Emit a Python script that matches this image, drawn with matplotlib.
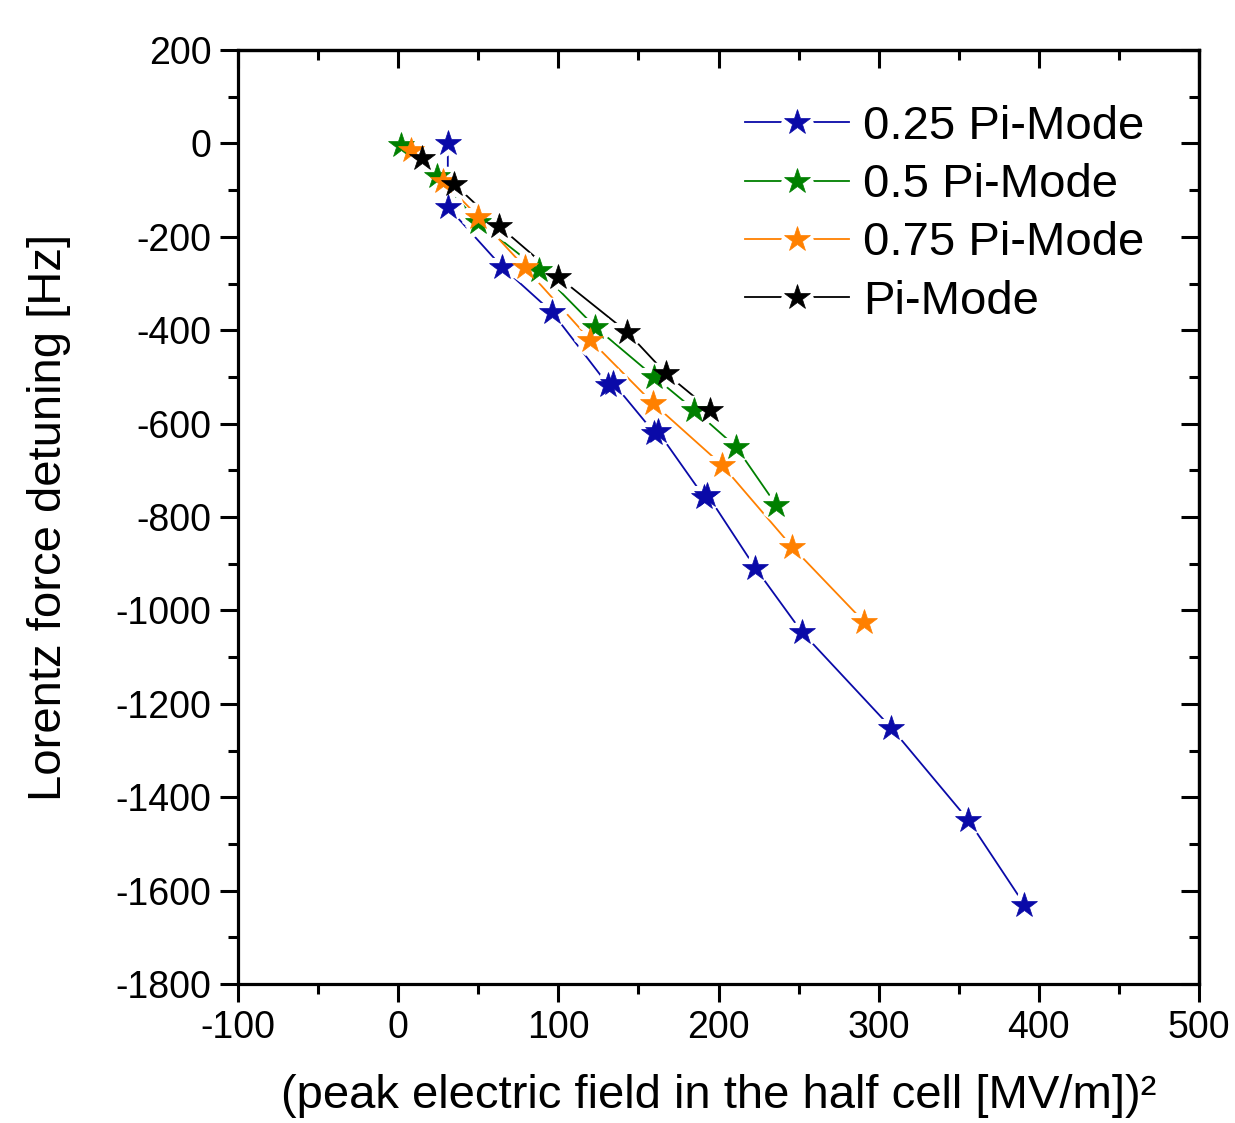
import matplotlib
matplotlib.use("Agg")
import matplotlib.pyplot as plt
from matplotlib.legend_handler import HandlerTuple
from matplotlib.ticker import MultipleLocator

plt.rcParams['font.family'] = ['Liberation Sans', 'DejaVu Sans']
plt.rcParams['axes.unicode_minus'] = False

# ---------------- data ----------------
labels = ["0.25 Pi-Mode", "0.5 Pi-Mode", "0.75 Pi-Mode", "Pi-Mode"]
colors = ["#0A0AA8", "#008000", "#FF8000", "#000000"]

x_025 = [31, 31, 65, 96, 131, 134, 160, 162, 191, 193, 223, 252, 308, 356, 391]
y_025 = [0, -136, -265, -361, -517, -512, -620, -616, -757, -752, -909, -1046, -1252, -1449, -1630]

x_05 = [2, 24, 50, 88, 123, 160, 185, 211, 236]
y_05 = [-4, -70, -168, -271, -393, -500, -571, -650, -774]

x_075 = [8, 28, 50, 79, 120, 159, 202, 246, 291]
y_075 = [-14, -80, -157, -265, -421, -556, -688, -864, -1025]

x_pi = [15, 35, 63, 100, 143, 167, 195]
y_pi = [-32, -87, -177, -286, -404, -492, -571]

xs = [x_025, x_05, x_075, x_pi]
ys = [y_025, y_05, y_075, y_pi]

x_ticks = [-100, 0, 100, 200, 300, 400, 500]
y_ticks = [200, 0, -200, -400, -600, -800, -1000, -1200, -1400, -1600, -1800]

# ---------------- figure ----------------
W, H = 1235, 1123
fig = plt.figure(figsize=(W / 100, H / 100), dpi=100)
ax = fig.add_axes([238 / W, 1 - 984 / H, (1199 - 238) / W, (984 - 50) / H])

ms = 19
handles = []
for x, y, c, lab in zip(xs, ys, colors, labels):
    ln, = ax.plot(x, y, '-', color=c, lw=1.3, zorder=1)
    halo, = ax.plot(x, y, '*', ls='none', ms=ms, mfc='white', mec='white', mew=8, zorder=2)
    mk, = ax.plot(x, y, '*', ls='none', ms=ms, mfc=c, mec=c, mew=0.5, zorder=3)
    handles.append((ln, halo, mk))

ax.set_xlim(x_ticks[0], x_ticks[-1])
ax.set_ylim(y_ticks[-1], y_ticks[0])
ax.set_xticks(x_ticks)
ax.set_yticks(y_ticks)
ax.xaxis.set_minor_locator(MultipleLocator(50))
ax.yaxis.set_minor_locator(MultipleLocator(100))

for s in ax.spines.values():
    s.set_linewidth(2.3)

ax.tick_params(which='major', direction='out', length=13, width=2.2, labelsize=27, pad=6)
ax.tick_params(which='minor', direction='out', length=7, width=2.2)

# mirrored inward ticks on top and right
top = ax.secondary_xaxis('top')
top.set_xticks(x_ticks)
top.xaxis.set_minor_locator(MultipleLocator(50))
top.tick_params(which='major', direction='in', length=13, width=2.2, labeltop=False)
top.tick_params(which='minor', direction='in', length=7, width=2.2)
top.spines['top'].set_linewidth(2.3)

right = ax.secondary_yaxis('right')
right.set_yticks(y_ticks)
right.yaxis.set_minor_locator(MultipleLocator(100))
right.tick_params(which='major', direction='in', length=13, width=2.2, labelright=False)
right.tick_params(which='minor', direction='in', length=7, width=2.2)
right.spines['right'].set_linewidth(2.3)

ax.set_xlabel("(peak electric field in the half cell [MV/m])\u00b2", fontsize=34, labelpad=20)
ax.set_ylabel("Lorentz force detuning [Hz]", fontsize=34, labelpad=32)

leg = ax.legend(handles, labels, handler_map={tuple: HandlerTuple(ndivide=1, pad=0)},
                loc='upper left', bbox_to_anchor=((745 - 238) / 961, (984 - 105) / 934),
                frameon=False, fontsize=34, handlelength=2.2, handletextpad=0.3,
                labelspacing=0.3, borderpad=0, borderaxespad=0)

fig.savefig("out.png", dpi=100)
